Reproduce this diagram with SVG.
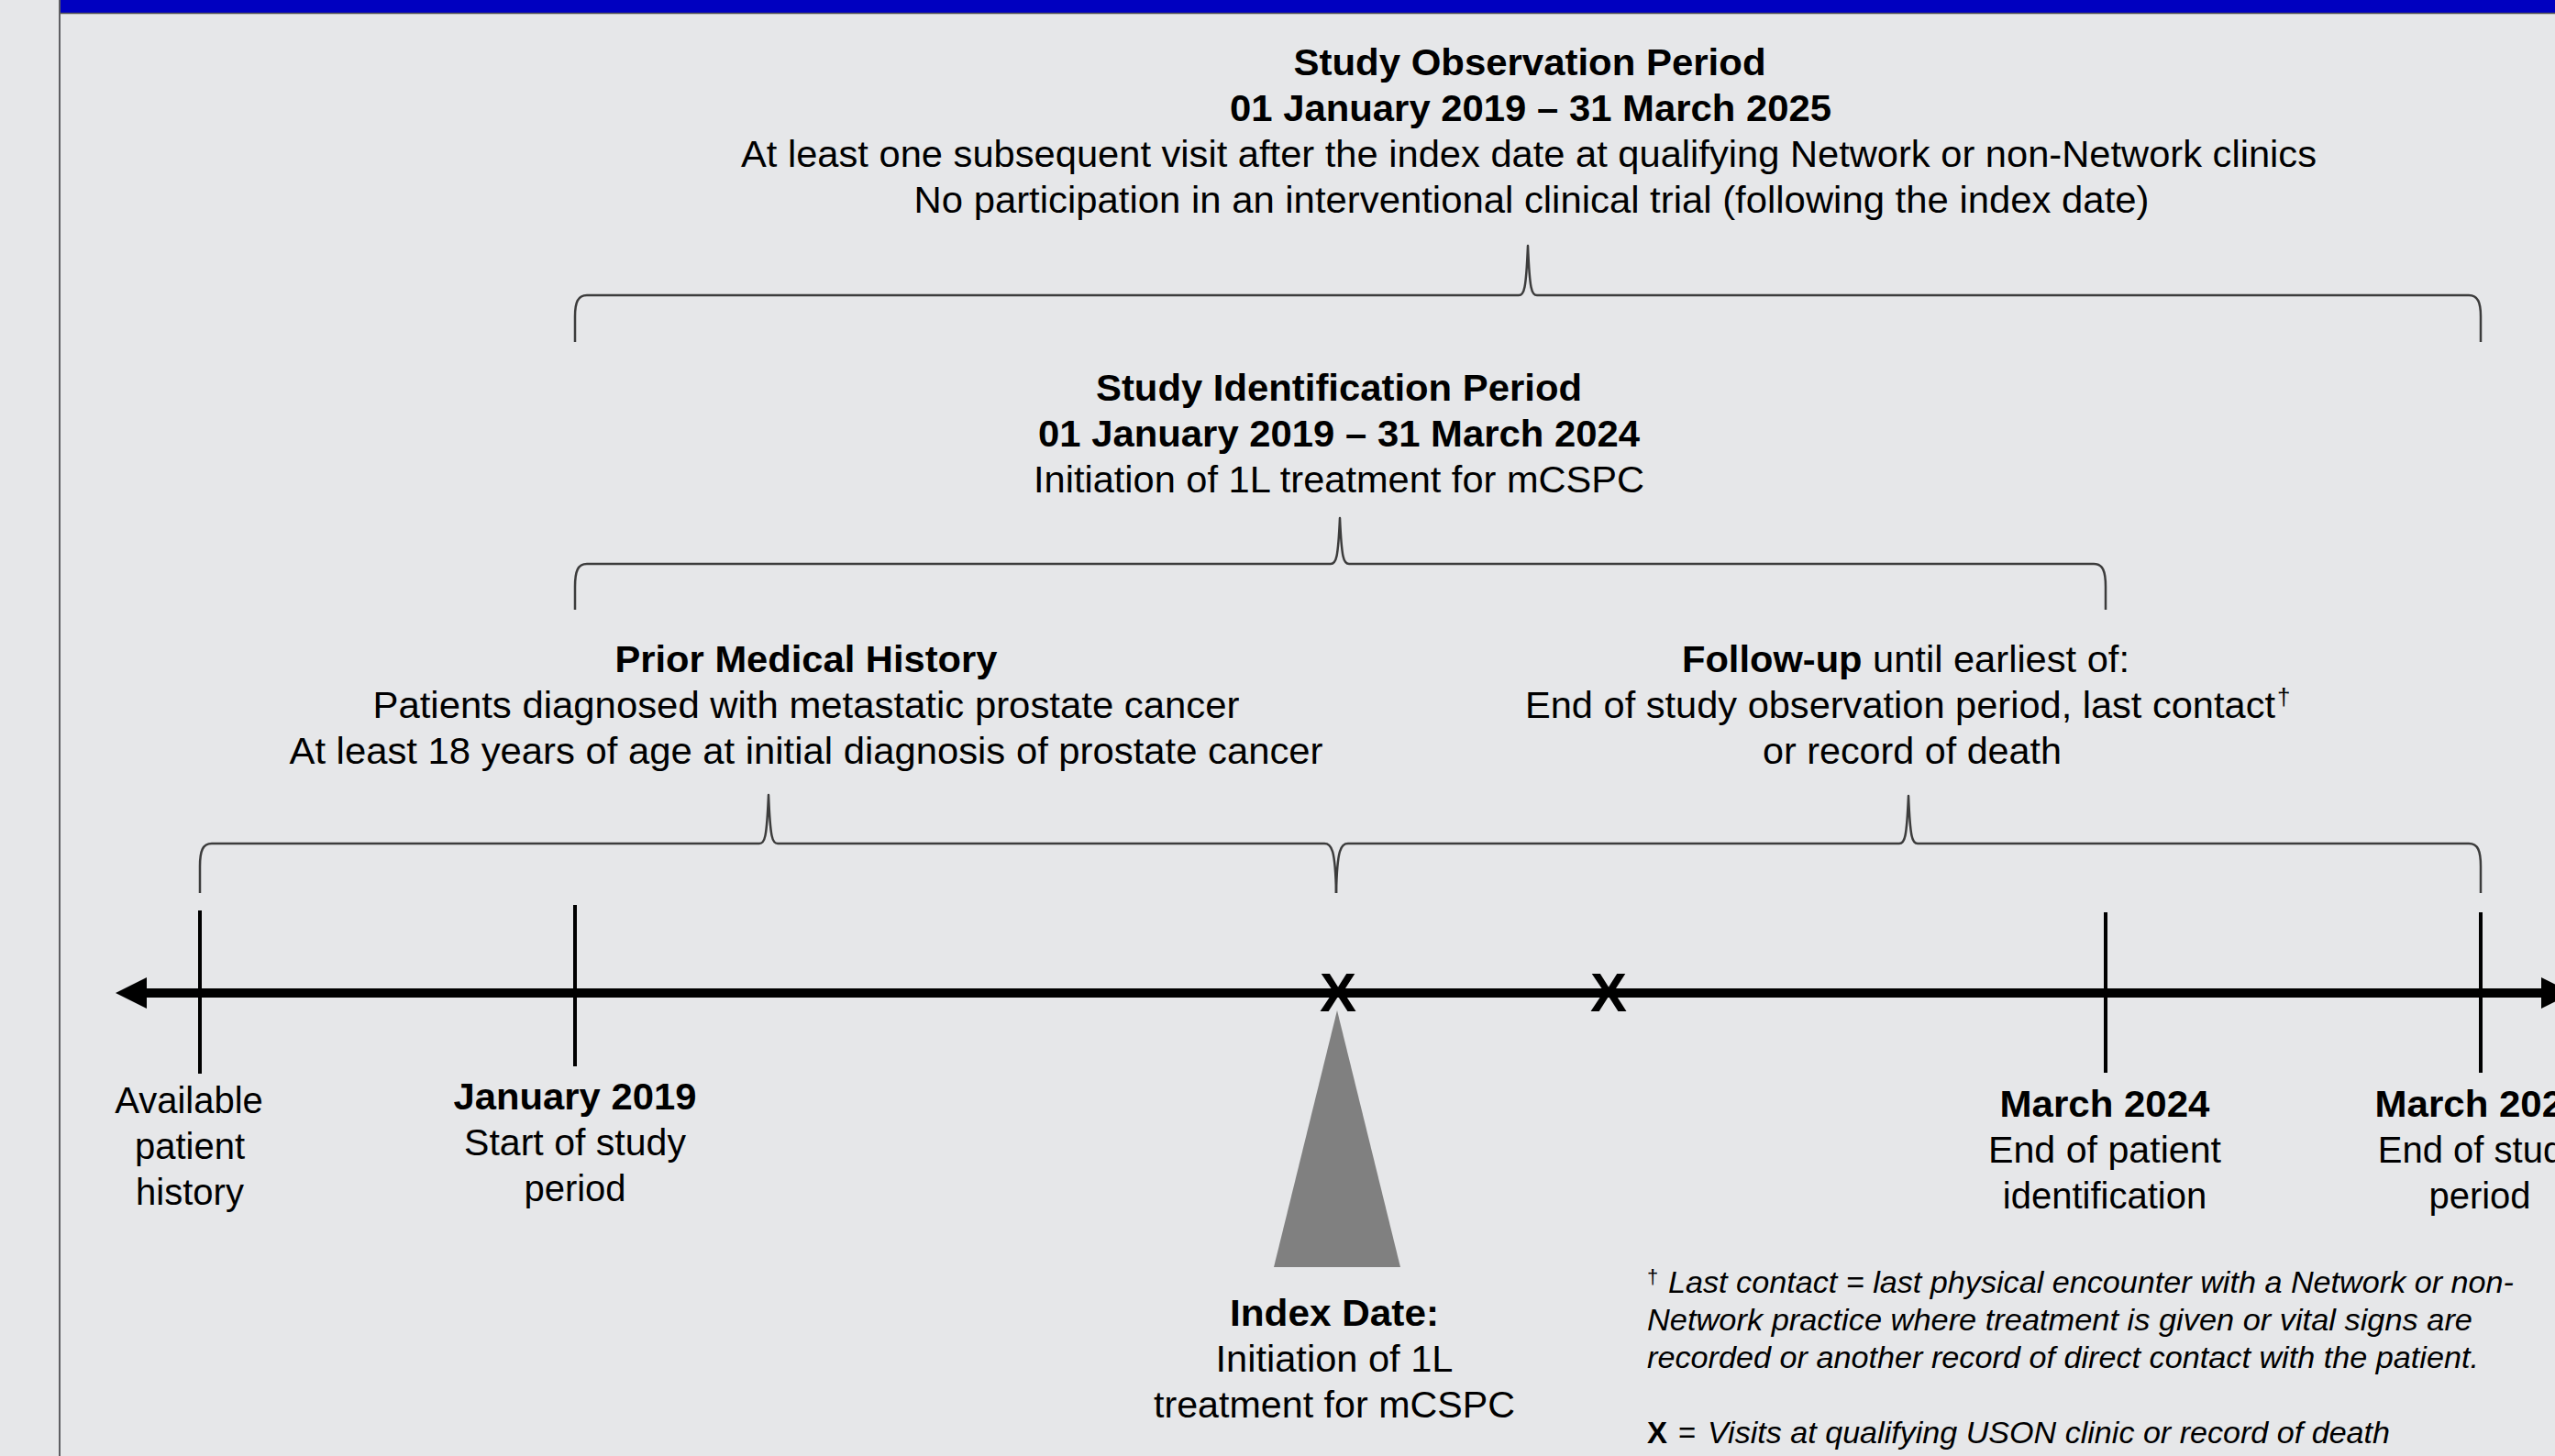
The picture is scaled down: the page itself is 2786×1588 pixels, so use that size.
<svg xmlns="http://www.w3.org/2000/svg" width="2786" height="1588" viewBox="0 0 2786 1588">
<style>
  text { font-family: "Liberation Sans", Arial, sans-serif; fill: #000; }
  .t { font-size: 40px; text-anchor: middle; }
  .s { font-size: 40px; }
  .b { font-weight: bold; }
  .fn { font-size: 33px; font-style: italic; }
  .brace { fill: none; stroke: #3c3c3c; stroke-width: 2.5; stroke-linejoin: round; }
  .tick { stroke: #000; stroke-width: 4; }
  .xm { font-size: 60px; font-weight: bold; text-anchor: middle; }
</style>
<rect width="2786" height="1588" fill="#E6E7E9"/>
<rect x="66" y="0" width="2720" height="14" fill="#0000C0"/>
<line x1="66" y1="14.5" x2="2786" y2="14.5" stroke="#555" stroke-width="1.5"/>
<line x1="65" y1="0" x2="65" y2="1588" stroke="#5f5f63" stroke-width="2"/>

<g id="connectors">
  <path class="brace" d="M627,373 L627,345 C627,330 630,322 640,322 L1656,322 C1662,322 1664,316 1666,268 C1668,316 1670,322 1676,322 L2692,322 C2702,322 2705,330 2705,345 L2705,373"/>
  <path class="brace" d="M627,665 L627,640 C627,623 630,615 640,615 L1451,615 C1457,615 1459,609 1461,565 C1463,609 1465,615 1471,615 L2283,615 C2293,615 2296,623 2296,640 L2296,665"/>
  <path class="brace" d="M218,974 L218,945 C218,928 221,920 231,920 L828,920 C834,920 836,914 838,867 C840,914 842,920 848,920 L1444,920 C1452,920 1456,926 1457,974"/>
  <path class="brace" d="M1457,974 C1458,926 1462,920 1470,920 L2071,920 C2077,920 2079,914 2081,868 C2083,914 2085,920 2091,920 L2692,920 C2702,920 2705,928 2705,945 L2705,974"/>
  <line x1="150" y1="1083" x2="2780" y2="1083" stroke="#000" stroke-width="10"/>
  <polygon points="126,1083 160,1066 160,1100" fill="#000"/>
  <polygon points="2771,1066 2805,1083 2771,1100" fill="#000"/>
  <line class="tick" x1="218" y1="993" x2="218" y2="1171"/>
  <line class="tick" x1="627" y1="987" x2="627" y2="1163"/>
  <line class="tick" x1="2296" y1="995" x2="2296" y2="1170"/>
  <line class="tick" x1="2705" y1="995" x2="2705" y2="1170"/>
</g>

<g id="observation-period">
  <text class="t b" x="1668" y="82" textLength="515" lengthAdjust="spacingAndGlyphs">Study Observation Period</text>
  <text class="t b" x="1669" y="132" textLength="656" lengthAdjust="spacingAndGlyphs">01 January 2019 – 31 March 2025</text>
  <text class="t" x="1667" y="182" textLength="1718" lengthAdjust="spacingAndGlyphs">At least one subsequent visit after the index date at qualifying Network or non-Network clinics</text>
  <text class="t" x="1670" y="232" textLength="1347" lengthAdjust="spacingAndGlyphs">No participation in an interventional clinical trial (following the index date)</text>
</g>

<g id="identification-period">
  <text class="t b" x="1460" y="437" textLength="530" lengthAdjust="spacingAndGlyphs">Study Identification Period</text>
  <text class="t b" x="1460" y="487" textLength="656" lengthAdjust="spacingAndGlyphs">01 January 2019 – 31 March 2024</text>
  <text class="t" x="1460" y="537" textLength="666" lengthAdjust="spacingAndGlyphs">Initiation of 1L treatment for mCSPC</text>
</g>

<g id="prior-history">
  <text class="t b" x="879" y="733" textLength="417" lengthAdjust="spacingAndGlyphs">Prior Medical History</text>
  <text class="t" x="879" y="783" textLength="945" lengthAdjust="spacingAndGlyphs">Patients diagnosed with metastatic prostate cancer</text>
  <text class="t" x="879" y="833" textLength="1127" lengthAdjust="spacingAndGlyphs">At least 18 years of age at initial diagnosis of prostate cancer</text>
</g>

<g id="follow-up">
  <text class="s" x="1834" y="733" textLength="488" lengthAdjust="spacingAndGlyphs"><tspan class="b">Follow-up</tspan> until earliest of:</text>
  <text class="s" x="1663" y="783" textLength="818" lengthAdjust="spacingAndGlyphs">End of study observation period, last contact</text>
  <text x="2483" y="769" font-size="26">†</text>
  <text class="s" x="1922" y="833" textLength="326" lengthAdjust="spacingAndGlyphs">or record of death</text>
</g>

<g id="visit-marks">
  <text class="xm" x="1459" y="1103">X</text>
  <text class="xm" x="1754" y="1103">X</text>
</g>

<g id="available-history">
  <text class="t" x="206" y="1214">Available</text>
  <text class="t" x="207" y="1264">patient</text>
  <text class="t" x="207" y="1314">history</text>
</g>

<g id="january-2019">
  <text class="t b" x="627" y="1210" textLength="265" lengthAdjust="spacingAndGlyphs">January 2019</text>
  <text class="t" x="627" y="1260" textLength="242" lengthAdjust="spacingAndGlyphs">Start of study</text>
  <text class="t" x="627" y="1310">period</text>
</g>

<g id="index-date">
  <polygon points="1458,1102 1389,1382 1527,1382" fill="#808080"/>
  <text class="t b" x="1455" y="1446" textLength="228" lengthAdjust="spacingAndGlyphs">Index Date:</text>
  <text class="t" x="1455" y="1496" textLength="259" lengthAdjust="spacingAndGlyphs">Initiation of 1L</text>
  <text class="t" x="1455" y="1546" textLength="394" lengthAdjust="spacingAndGlyphs">treatment for mCSPC</text>
</g>

<g id="march-2024">
  <text class="t b" x="2295" y="1218" textLength="229" lengthAdjust="spacingAndGlyphs">March 2024</text>
  <text class="t" x="2295" y="1268" textLength="254" lengthAdjust="spacingAndGlyphs">End of patient</text>
  <text class="t" x="2295" y="1318">identification</text>
</g>

<g id="march-2025">
  <text class="t b" x="2704" y="1218" textLength="229" lengthAdjust="spacingAndGlyphs">March 2025</text>
  <text class="t" x="2704" y="1268">End of study</text>
  <text class="t" x="2704" y="1318">period</text>
</g>

<g id="footnotes">
  <text x="1796" y="1400" font-size="22">†</text>
  <text class="fn" x="1819" y="1410" textLength="922" lengthAdjust="spacingAndGlyphs">Last contact = last physical encounter with a Network or non-</text>
  <text class="fn" x="1796" y="1451" textLength="900" lengthAdjust="spacingAndGlyphs">Network practice where treatment is given or vital signs are</text>
  <text class="fn" x="1796" y="1492" textLength="907" lengthAdjust="spacingAndGlyphs">recorded or another record of direct contact with the patient.</text>
  <text x="1796" y="1574" font-size="33" font-weight="bold">X</text>
  <text x="1830" y="1574" font-size="33">=</text>
  <text class="fn" x="1862" y="1574" textLength="744" lengthAdjust="spacingAndGlyphs">Visits at qualifying USON clinic or record of death</text>
</g>
</svg>
